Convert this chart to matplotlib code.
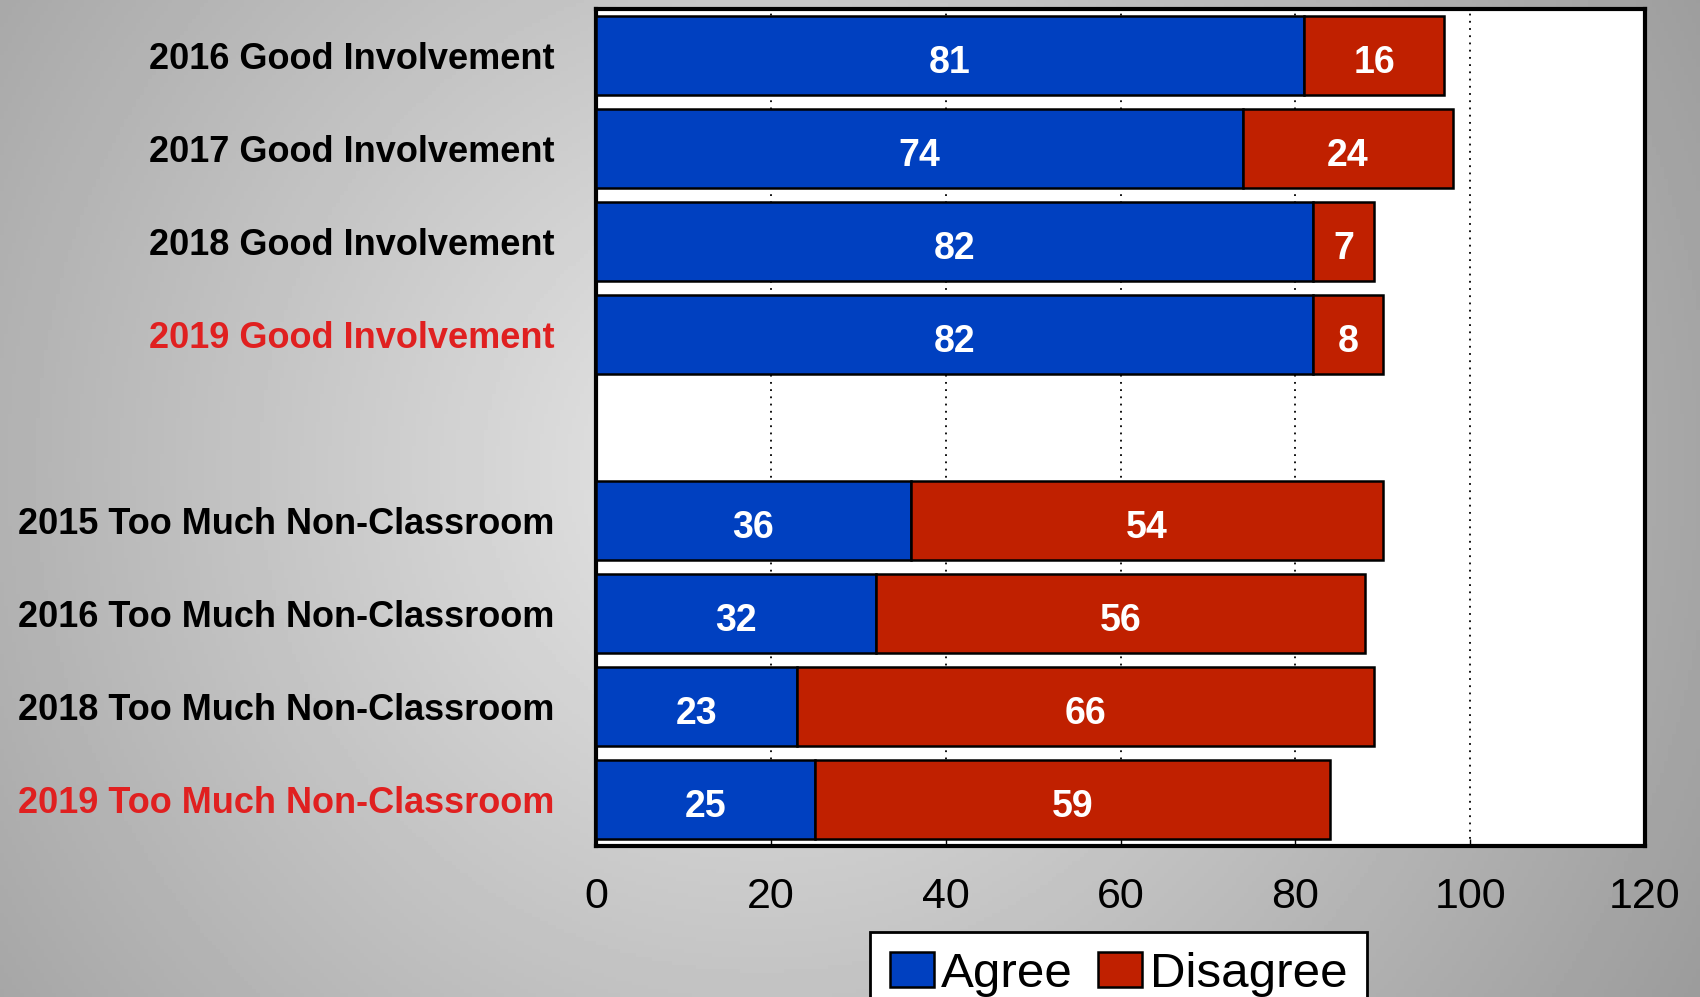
import numpy as np
import matplotlib.pyplot as plt

# ----------------------------
# Data
# ----------------------------
labels = ["2016 Good Involvement", "2017 Good Involvement", "2018 Good Involvement",
          "2019 Good Involvement",
          "2015 Too Much Non-Classroom", "2016 Too Much Non-Classroom",
          "2018 Too Much Non-Classroom", "2019 Too Much Non-Classroom"]
agree = [81, 74, 82, 82, 36, 32, 23, 25]
disagree = [16, 24, 7, 8, 54, 56, 66, 59]
highlight = ["2019 Good Involvement", "2019 Too Much Non-Classroom"]
xticks = [0, 20, 40, 60, 80, 100, 120]

plt.rcParams['font.family'] = ['Liberation Sans', 'DejaVu Sans']

blue = "#0040c0"
red = "#c02000"

fig = plt.figure(figsize=(17, 9.97), dpi=100)

# grey radial gradient background, brightest a bit left of centre
bg = fig.add_axes([0, 0, 1, 1], zorder=-10)
px = np.arange(0, 1700, 4)
py = np.arange(0, 997, 4)
X, Y = np.meshgrid(px, py)
d = np.sqrt((X - 760) ** 2 + (Y - 470) ** 2)
g = 0.91 - 0.26 * (d / 930)
bg.imshow(g, cmap="gray", vmin=0, vmax=1, aspect="auto", extent=[0, 1, 1, 0])
bg.set_xlim(0, 1)
bg.set_ylim(1, 0)
bg.axis("off")

ax = fig.add_axes([596 / 1700, 1 - 846 / 997, (1645 - 596) / 1700, (846 - 9) / 997])
ax.set_facecolor("white")

# positions top to bottom, with an empty slot between the two groups
n_good = 4
ypos = [i if i < n_good else i + 1 for i in range(len(labels))]

ax.barh(ypos, agree, height=0.84, color=blue, edgecolor="black", linewidth=1.8,
        label="Agree", zorder=3)
ax.barh(ypos, disagree, left=agree, height=0.84, color=red, edgecolor="black",
        linewidth=1.8, label="Disagree", zorder=3)

for y, a, d_ in zip(ypos, agree, disagree):
    ax.text(a / 2, y + 0.04, str(a), color="white", fontsize=27, fontweight="bold",
            ha="center", va="center_baseline", zorder=4)
    ax.text(a + d_ / 2, y + 0.04, str(d_), color="white", fontsize=27, fontweight="bold",
            ha="center", va="center_baseline", zorder=4)

ax.set_xlim(0, 120)
ax.set_ylim(len(labels) + 0.5, -0.5)
ax.set_xticks(xticks)
ax.set_xticklabels([str(t) for t in xticks], fontsize=31)
ax.tick_params(axis="x", direction="in", length=5, width=1, pad=22)
ax.set_yticks(ypos)
ax.set_yticklabels(labels, fontsize=26, fontweight="bold")
ax.tick_params(axis="y", length=0, pad=30)
for lab in ax.get_yticklabels():
    if lab.get_text() in highlight:
        lab.set_color("#e02020")

ax.grid(axis="x", color="black", linestyle=(0, (1, 3)), linewidth=1.3, zorder=0)
ax.set_axisbelow(True)
for s in ax.spines.values():
    s.set_linewidth(3)

leg = ax.legend(loc="upper center", bbox_to_anchor=(0.498, -0.103), ncol=2,
                fontsize=35.5, frameon=True, fancybox=False, edgecolor="black",
                framealpha=1, facecolor="white",
                handlelength=0.9, handleheight=0.7, handletextpad=0.15,
                columnspacing=0.5, borderpad=0.4, borderaxespad=0)
leg.get_frame().set_linewidth(2)

fig.savefig("out.png", dpi=100)
